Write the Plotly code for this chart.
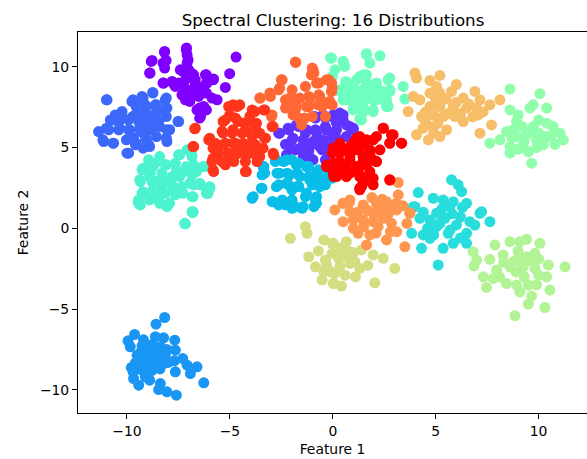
import math
import plotly.graph_objects as go

# ---- data, (Feature 1, Feature 2) per point ----
c00_pts = [(-8.18,10.89),(-7.11,11.16),(-7.08,10.74),(-8.78,10.39),(-8.10,10.39),(-8.17,9.92),(-8.90,9.61),(-4.70,10.60),
           (-5.01,9.57),(-5.22,8.72),(-7.08,10.23),(-7.00,9.81),(-7.41,9.81),(-6.76,9.50),(-6.19,9.50),(-5.79,9.24),
           (-6.11,8.99),(-6.39,8.68),(-6.68,8.88),(-7.16,9.19),(-7.49,8.99),(-7.81,9.09),(-8.22,8.99),(-7.08,8.57),
           (-7.16,7.95),(-6.52,8.16),(-6.27,7.54),(-6.60,7.33),(-6.43,6.92),(-5.87,8.06),(-5.62,7.95),(-6.84,8.26),
           (-7.33,8.26),(-7.65,8.78),(-6.68,9.19),
           (-8.17,10.95),(-7.12,11.05),(-8.82,10.33),(-8.25,10.23),(-8.88,9.61),(-7.03,10.43),(-7.28,9.71),(-6.87,9.61),
           (-6.14,9.50),(-8.25,8.99),(-7.76,8.99),(-7.28,8.88),(-6.64,8.88),(-6.14,8.99),(-5.82,9.19),(-7.28,8.26),
           (-6.64,8.26),(-6.14,8.37),(-6.47,7.44),(-6.14,7.33),(-6.47,6.82),(-6.95,7.85)]

c01_pts = [(-2.63,5.89),(-2.14,6.10),(-1.65,6.30),(-0.84,6.82),(-0.36,6.82),(-1.33,5.89),(-0.84,6.10),(-0.36,6.30),
           (0.13,6.71),(-1.98,5.48),(-1.33,5.27),(-0.68,5.48),(-0.03,5.68),(-1.82,4.86),(-1.17,4.75),(-0.52,4.86),
           (-1.00,4.24),(-0.36,4.24),(0.02,6.92),(0.50,6.71),(0.34,7.13),(0.83,6.30),(0.99,6.10),(0.66,5.68),
           (0.18,6.10),(0.02,5.89),(-1.50,6.60),(-2.30,5.20),(-0.10,5.10),
           (-2.58,5.89),(-2.17,6.20),(-1.77,6.40),(-1.28,6.10),(-0.88,6.92),(-0.47,7.02),(0.02,7.02),(0.50,7.02),
           (0.18,6.51),(0.66,6.40),(0.99,6.20),(-0.31,6.10),(-0.79,5.89),(-1.93,5.58),(-1.44,5.48),(-0.96,5.37),
           (-0.47,5.48),(0.18,5.58),(-2.09,5.06),(-1.60,4.96),(-1.12,5.06),(-0.63,5.06),(-2.25,4.55),(-1.44,4.44),
           (-0.96,4.24),(-0.31,4.86),(0.02,5.17)]

c02_pts = [(-10.97,7.95),(-8.75,8.41),(-9.27,8.16),(-9.76,7.85),(-9.51,7.64),(-9.11,7.64),(-8.62,7.64),(-8.14,7.95),
           (-8.06,7.44),(-8.22,7.23),(-8.62,7.13),(-9.11,7.13),(-9.59,7.02),(-10.24,7.23),(-10.57,7.02),(-10.81,6.71),
           (-10.40,6.61),(-9.92,6.71),(-9.43,6.61),(-8.95,6.71),(-8.46,6.61),(-7.49,6.61),(-8.06,6.10),(-11.38,5.99),
           (-10.89,6.10),(-10.40,6.10),(-9.92,6.10),(-9.35,5.99),(-9.11,5.68),(-11.13,5.37),(-10.65,5.27),(-9.68,5.58),
           (-9.59,5.17),(-8.95,5.17),(-8.06,5.37),(-9.92,4.65),(-9.27,6.30),(-8.78,6.30),
           (-11.00,7.95),(-9.71,7.95),(-9.22,8.06),(-8.74,8.37),(-8.09,8.06),(-9.55,7.54),(-9.06,7.54),(-8.57,7.64),
           (-8.09,7.44),(-10.68,6.71),(-10.19,6.82),(-9.71,6.92),(-9.22,7.02),(-8.74,6.82),(-8.09,6.92),(-7.52,6.61),
           (-11.00,6.20),(-10.36,6.20),(-9.87,6.10),(-9.38,6.20),(-8.90,6.10),(-8.41,6.30),(-7.93,6.10),(-11.17,5.48),
           (-10.68,5.27),(-10.03,5.48),(-9.55,5.27),(-9.06,5.48),(-8.57,5.68),(-8.09,5.58),(-10.00,4.65),(-9.22,4.96),
           (-8.90,5.06)]

c03_pts = [(-8.17,-5.52),(-8.59,-5.93),(-9.63,-6.57),(-9.95,-6.96),(-9.84,-7.33),(-9.27,-7.27),(-9.03,-7.23),(-8.62,-6.71),
           (-8.22,-6.78),(-7.68,-6.92),(-8.38,-7.33),(-8.06,-7.50),(-7.65,-7.54),(-9.51,-7.85),(-9.03,-7.95),(-8.62,-7.91),
           (-8.14,-7.85),(-7.29,-8.06),(-9.59,-8.33),(-9.11,-8.37),(-8.62,-8.41),(-8.22,-8.37),(-7.08,-8.47),(-6.60,-8.57),
           (-9.79,-8.62),(-9.27,-8.78),(-7.65,-8.88),(-6.92,-8.99),(-9.68,-9.30),(-9.11,-9.19),(-9.43,-9.71),(-8.38,-9.61),
           (-8.46,-9.98),(-8.06,-10.12),(-7.60,-10.33),(-6.27,-9.56),
           (-9.30,-7.60),(-8.80,-7.60),(-8.90,-8.10),(-9.40,-8.20),(-8.40,-8.00),(-8.80,-8.80),(-8.40,-8.70),(-9.70,-8.90),
           (-8.90,-9.40),(-8.00,-8.30),(-7.70,-8.20),(-9.20,-6.90),(-8.80,-7.20)]

c04_pts = [(-3.35,3.82),(-3.44,3.31),(-2.79,4.13),(-2.38,4.13),(-1.98,4.24),(-1.65,4.03),(-1.17,3.82),(-0.68,3.62),
           (-0.19,3.41),(-2.71,3.41),(-2.22,3.41),(-1.73,3.41),(-1.17,3.20),(-0.68,3.10),(-2.63,2.69),(-2.14,2.69),
           (-1.65,2.58),(-1.00,2.69),(-0.36,2.69),(-3.44,2.48),(-3.92,1.86),(-2.95,1.65),(-2.46,1.76),(-1.98,1.76),
           (-1.33,1.96),(-0.84,1.76),(-1.82,1.34),(-2.30,1.45),(-0.03,3.10),(-2.63,1.45),(-1.98,1.24),(-0.92,1.34),
           (-1.49,1.24),
           (-3.39,3.82),(-3.31,3.41),(-3.47,2.48),(-3.87,1.96),(-2.74,4.24),(-2.25,4.24),(-1.77,3.93),(-1.28,3.82),
           (-0.79,3.41),(-0.31,3.10),(-2.58,3.41),(-2.09,3.31),(-1.60,3.20),(-1.12,3.00),(-0.63,2.58),(-2.74,2.58),
           (-2.25,2.79),(-1.77,2.58),(-1.28,2.17),(-0.79,1.96),(-2.90,1.65),(-2.41,1.55),(-1.93,1.45),(-1.44,1.34),
           (-0.79,1.55),(-1.99,2.38)]

c05_pts = [(5.77,3.00),(6.09,2.69),(6.26,2.27),(4.15,2.21),(4.88,1.86),(5.36,1.76),(5.85,1.65),(6.50,1.55),
           (7.23,1.03),(3.91,1.34),(3.99,1.34),(4.23,0.62),(3.83,-0.31),(4.31,-1.24),(4.72,-0.62),(5.04,0.93),
           (5.04,0.10),(5.45,0.62),(5.61,-0.31),(5.36,-1.24),(5.85,-0.93),(6.01,0.21),(6.50,-0.31),(6.50,-0.93),
           (6.66,0.41),(7.15,0.93),(7.63,0.41),(5.12,-2.27),(5.69,1.34),(4.72,0.52),(4.39,-0.41),
           (5.30,1.20),(5.80,0.90),(6.20,0.70),(5.20,0.30),(5.70,-0.10),(6.20,-0.60),(4.60,0.00),(4.90,-0.40),
           (6.90,0.20),(6.30,1.30),(4.40,1.00)]

c06_pts = [(-7.08,4.86),(-6.84,4.44),(-7.49,4.55),(-8.95,4.24),(-8.62,4.03),(-8.14,3.93),(-7.65,4.03),(-6.76,3.93),
           (-6.19,3.82),(-9.27,3.62),(-8.87,3.41),(-8.30,3.41),(-7.81,3.20),(-7.33,3.41),(-6.84,3.31),(-9.35,2.89),
           (-8.78,2.89),(-8.30,2.69),(-7.81,2.69),(-7.33,2.58),(-6.76,2.69),(-6.43,2.69),(-5.97,2.48),(-6.06,2.17),
           (-9.27,2.17),(-8.78,2.17),(-8.14,2.17),(-7.65,2.07),(-6.84,1.96),(-9.43,1.76),(-8.46,1.86),(-8.06,1.45),
           (-9.43,1.55),(-6.84,1.03),(-7.16,0.27),(-6.81,0.97),(-8.06,1.34),(-9.35,1.45),
           (-6.87,4.65),(-7.44,4.55),(-8.41,4.44),(-9.22,3.72),(-8.74,3.82),(-8.09,3.93),(-7.60,3.62),(-7.12,3.82),
           (-6.63,3.51),(-6.30,3.82),(-9.38,3.00),(-8.90,3.20),(-8.41,3.00),(-7.93,3.00),(-7.44,3.20),(-6.95,2.79),
           (-6.47,2.79),(-5.98,2.58),(-9.22,2.27),(-8.74,2.38),(-8.25,2.27),(-7.76,2.38),(-7.28,2.17),(-6.79,1.96),
           (-6.14,2.17),(-9.46,1.65),(-8.90,1.76),(-8.41,1.55),(-7.93,1.55),(-6.79,1.03),(-7.20,0.31)]

c07_pts = [(1.64,10.74),(2.29,10.68),(1.80,10.23),(0.50,10.33),(0.58,10.02),(-0.06,10.54),(0.10,9.81),(1.48,9.50),
           (1.15,9.19),(1.64,8.99),(2.12,8.88),(2.69,9.19),(3.42,8.78),(3.50,8.00),(0.66,8.88),(0.34,8.57),
           (0.83,8.37),(1.31,8.47),(1.80,8.37),(2.29,8.37),(2.77,8.47),(0.50,7.95),(0.99,7.85),(1.48,7.85),
           (1.96,7.95),(2.45,7.95),(2.69,7.54),(0.99,7.33),(1.48,7.23),(1.96,7.23),(1.31,6.76),(-0.11,10.54),
           (1.64,10.81),(0.50,10.33),(-0.02,9.40),(0.63,9.09),(1.31,9.40),(1.64,9.50),(2.12,8.99),(2.77,9.30),
           (0.34,8.47),(0.99,8.78),(1.47,8.57),(1.96,8.57),(2.45,8.47),(2.77,8.57),(0.66,7.95),(1.15,7.95),
           (1.64,8.06),(2.12,7.95),(2.61,7.95),(0.99,7.44),(1.47,7.54),(1.96,7.33),(2.61,7.54),(1.39,6.71)]

c08_pts = [(8.61,8.62),(10.06,8.33),(9.74,7.64),(10.39,7.44),(8.61,7.33),(9.01,7.02),(9.58,7.44),(8.93,6.61),
           (9.74,6.30),(10.39,6.51),(10.71,6.30),(11.04,5.89),(11.20,5.48),(8.44,5.99),(8.93,5.68),(9.41,5.79),
           (9.90,5.48),(10.39,5.68),(7.63,5.27),(8.12,5.48),(8.61,5.06),(9.25,5.17),(10.23,5.17),(8.61,4.65),
           (9.50,4.75),(9.66,4.03),(8.77,6.10),
           (9.20,6.30),(9.60,6.00),(10.00,5.90),(10.00,6.70),(9.30,5.40),(8.70,5.60),(10.60,5.70),(9.00,4.90),
           (9.90,5.00),(10.80,5.20)]

c09_pts = [(7.88,-1.03),(8.61,-0.83),(9.09,-0.83),(9.41,-0.68),(10.06,-0.93),(6.82,-1.45),(6.99,-1.96),(6.86,-2.33),
           (7.63,-1.92),(8.28,-1.65),(8.93,-1.96),(9.41,-1.76),(9.82,-1.55),(7.96,-2.58),(8.61,-2.38),(9.25,-2.38),
           (9.82,-2.48),(10.47,-2.27),(11.28,-2.38),(7.31,-3.00),(7.80,-3.10),(8.44,-3.41),(8.93,-3.51),(9.50,-3.51),
           (10.39,-3.00),(7.47,-3.66),(9.09,-3.93),(9.66,-4.19),(10.55,-3.82),(9.50,-4.69),(10.31,-4.90),(8.85,-5.41),
           (8.77,-2.07),
           (8.30,-2.10),(8.90,-2.70),(9.30,-3.00),(9.60,-2.00),(8.10,-3.00),(10.00,-2.90),(9.00,-1.40),(10.00,-1.90),
           (9.90,-3.50)]

c10_pts = [(-1.33,0.10),(-1.25,-0.31),(-2.06,-0.62),(-0.44,-0.72),(-0.03,-0.93),(-1.17,-1.76),(-0.84,-2.38),(-0.36,-1.96),
           (-0.03,-1.55),(-0.52,-3.20),(0.05,-3.41),(-0.44,-2.69),(0.02,-0.93),(0.66,-0.83),(1.39,-1.34),(1.96,-1.65),
           (2.45,-1.86),(3.01,-2.48),(2.04,-3.37),(0.42,-3.57),(0.02,-3.41),(0.34,-2.38),(0.83,-2.17),(1.31,-2.48),
           (0.18,-1.65),(0.66,-1.76),(1.07,-2.07),(0.10,-2.79),(0.83,-1.45),
           (0.30,-1.90),(-0.30,-2.30),(0.60,-2.90),(1.00,-1.50),(-0.70,-1.40),(1.70,-2.30),(0.40,-1.20),(-0.10,-2.70),
           (1.10,-3.00)]

c11_pts = [(3.99,9.61),(4.07,9.30),(4.72,9.15),(5.20,9.46),(5.04,8.78),(3.91,8.16),(4.23,7.95),(3.66,7.23),
           (4.72,8.37),(5.20,8.37),(5.77,8.47),(6.34,8.06),(6.90,8.47),(7.15,7.95),(7.63,7.64),(8.12,7.95),
           (4.72,7.54),(5.20,7.54),(5.85,7.54),(6.50,7.44),(6.99,7.44),(4.31,6.92),(4.88,7.02),(5.36,6.92),
           (5.93,6.92),(6.34,6.61),(7.07,7.02),(7.71,6.40),(4.39,6.20),(4.88,6.30),(5.53,6.10),(4.07,5.79),
           (4.64,5.48),(5.20,5.68),(7.15,5.89),
           (5.50,8.00),(6.00,7.80),(6.60,7.70),(5.00,8.00),(4.50,7.20),(5.60,7.10),(6.20,7.10),(4.50,6.60),
           (5.10,6.50),(6.80,6.90),(7.30,7.20),(6.00,8.90),(4.90,5.90)]

c12_pts = [(3.18,2.83),(0.50,1.55),(0.83,1.76),(1.48,1.45),(2.12,1.55),(2.61,1.65),(3.18,2.07),(3.10,1.55),
           (3.74,0.97),(0.10,1.14),(0.50,1.55),(0.83,1.03),(1.48,1.34),(1.96,0.93),(2.45,1.34),(2.93,1.45),
           (3.10,1.14),(0.50,0.41),(0.99,0.52),(1.48,0.52),(1.96,0.41),(2.45,0.62),(2.85,0.31),(3.10,-0.21),
           (1.23,-0.31),(1.80,-0.41),(2.61,-0.72),(3.50,-1.14),(1.64,-1.03),(3.74,0.93),
           (1.20,1.00),(1.70,1.10),(2.20,1.00),(2.70,0.90),(1.00,0.00),(1.50,0.10),(2.20,0.10),(2.80,-0.20),
           (0.80,1.60),(2.40,1.80),(1.90,1.90),(2.10,-0.30),(3.40,1.40),(3.60,0.30)]

c13_pts = [(-1.82,10.29),(-1.00,9.92),(-0.92,9.61),(-2.46,9.19),(-3.52,8.06),(-3.03,8.16),(-2.63,8.57),(-1.98,8.57),
           (-1.33,8.78),(-0.68,8.99),(-0.19,9.19),(-0.03,8.68),(-2.30,7.95),(-1.82,7.95),(-1.17,8.16),(-0.68,8.26),
           (-2.30,7.44),(-1.82,7.33),(-1.17,7.54),(-0.52,7.54),(-0.03,7.64),(-2.95,7.02),(-1.65,6.82),(-1.00,6.92),
           (-0.36,6.92),(-0.06,8.47),(-0.15,7.85),(-0.06,8.99),
           (-1.80,10.27),(-0.96,9.81),(-1.04,9.50),(-0.79,8.99),(-0.31,9.19),(-2.50,9.19),(-2.58,8.68),(-3.06,8.37),
           (-3.55,8.06),(-2.09,8.06),(-1.60,8.06),(-1.12,8.06),(-0.63,8.16),(-0.06,8.47),(-2.25,7.54),(-1.77,7.54),
           (-1.28,7.54),(-0.71,7.64),(-0.31,7.75),(-1.93,7.02),(-1.36,6.82),(-1.52,6.40),(-2.98,6.92)]

c14_pts = [(-6.68,6.20),(-6.76,5.06),(-6.03,5.48),(-5.79,3.51),(-5.06,7.54),(-4.65,7.54),(-5.22,6.71),(-4.73,6.82),
           (-3.92,7.33),(-3.35,7.33),(-4.08,6.61),(-3.76,6.30),(-2.95,6.30),(-5.38,6.00),(-4.89,5.89),(-4.41,5.89),
           (-3.92,5.68),(-3.27,5.58),(-5.71,5.27),(-5.22,5.27),(-4.73,5.27),(-4.25,5.17),(-3.76,5.17),(-5.54,4.65),
           (-5.06,4.65),(-4.57,4.65),(-3.92,4.65),(-3.52,4.86),(-5.87,4.13),(-5.38,4.13),(-4.81,4.13),(-4.25,4.13),
           (-3.68,4.13),(-2.87,4.55),(-4.25,3.51),(-5.22,3.93),(-4.49,5.17),(-4.33,6.51),
           (-4.85,7.64),(-4.52,7.64),(-5.01,7.02),(-3.79,7.23),(-3.31,7.33),(-4.03,6.92),(-6.71,6.16),(-5.33,6.61),
           (-4.60,6.61),(-3.71,6.51),(-2.90,6.30),(-5.98,5.58),(-5.33,5.89),(-4.85,6.10),(-4.20,5.99),(-3.55,5.89),
           (-3.31,5.58),(-6.79,5.06),(-5.82,4.96),(-5.33,5.17),(-4.85,5.27),(-4.36,5.27),(-3.87,5.17),(-3.39,4.96),
           (-2.90,4.65),(-5.82,4.34),(-5.33,4.13),(-4.85,4.34),(-4.20,4.55),(-3.55,4.44),(-5.82,3.62),(-4.20,3.51),
           (-4.68,4.86)]

c15_pts = [(-0.03,4.65),(-0.28,3.93),(0.13,3.72),(0.05,3.20),(2.45,6.20),(2.85,5.79),(3.34,5.27),(2.77,5.27),
           (1.96,5.48),(1.31,5.68),(1.47,5.27),(0.99,5.27),(0.34,5.27),(0.02,4.96),(0.66,4.86),(1.14,4.86),
           (1.80,4.65),(2.12,4.13),(1.47,4.13),(0.83,4.24),(0.34,4.13),(0.02,4.03),(1.31,3.82),(0.50,3.62),
           (0.02,3.41),(1.31,3.20),(1.96,3.10),(1.47,2.79),(1.31,2.48),(2.77,2.99),(1.80,3.51),(0.83,3.41),
           (2.45,6.20),(2.93,5.79),(3.34,5.27),(2.77,5.27),(2.12,5.68),(1.64,5.48),(1.15,5.58),(0.83,5.06),
           (1.31,4.96),(1.80,4.86),(2.29,4.86),(0.34,4.65),(0.83,4.44),(1.47,4.44),(1.96,4.24),(0.18,4.03),
           (-0.31,3.82),(0.66,3.93),(1.15,3.82),(1.64,3.93),(2.12,4.13),(0.18,3.20),(0.66,3.20),(1.31,3.31),
           (1.80,3.20),(1.39,2.58),(1.96,2.69),(2.77,3.00),(1.31,2.38),(0.02,3.62)]

clusters = [c00_pts, c01_pts, c02_pts, c03_pts, c04_pts, c05_pts, c06_pts, c07_pts,
            c08_pts, c09_pts, c10_pts, c11_pts, c12_pts, c13_pts, c14_pts, c15_pts]

x_ticks = [-10, -5, 0, 5, 10]
y_ticks = [-10, -5, 0, 5, 10]


def rainbow(t):
    r = min(1.0, max(0.0, abs(2 * t - 0.5)))
    g = min(1.0, max(0.0, math.sin(math.pi * t)))
    b = min(1.0, max(0.0, math.cos(math.pi * t / 2)))
    return "rgb(%d,%d,%d)" % (round(r * 255), round(g * 255), round(b * 255))


fig = go.Figure()
n = len(clusters)
for i, pts in enumerate(clusters):
    xs = [p[0] for p in pts]
    ys = [p[1] for p in pts]
    fig.add_trace(go.Scatter(
        x=xs, y=ys, mode="markers",
        marker=dict(size=11, color=rainbow(i / (n - 1)), line=dict(width=0)),
        showlegend=False, hoverinfo="skip",
    ))

font = "DejaVu Sans, Verdana, sans-serif"
fig.update_layout(
    width=587, height=459,
    margin=dict(l=78, r=0, t=32, b=46),
    paper_bgcolor="white", plot_bgcolor="white",
    font=dict(family=font, size=14, color="black"),
    title=dict(text="Spectral Clustering: 16 Distributions",
               x=(333 / 587), xanchor="center",
               y=1 - 20.5 / 459, yanchor="middle",
               font=dict(size=16.7, family=font, color="black")),
)
axis_common = dict(
    showgrid=False, zeroline=False,
    showline=True, linecolor="black", linewidth=1, mirror=True,
    ticks="outside", ticklen=5, tickwidth=1, tickcolor="black",
    tickfont=dict(size=13.9, family=font, color="black"),
)
fig.update_xaxes(range=[-12.38, 12.35], tickvals=x_ticks,
                 title=dict(text="Feature 1", standoff=6,
                            font=dict(size=13.9, family=font, color="black")),
                 **axis_common)
fig.update_yaxes(range=[-11.43, 12.15], tickvals=y_ticks,
                 title=dict(text="Feature 2", standoff=8,
                            font=dict(size=13.9, family=font, color="black")),
                 **axis_common)

fig.write_html("out.html")
